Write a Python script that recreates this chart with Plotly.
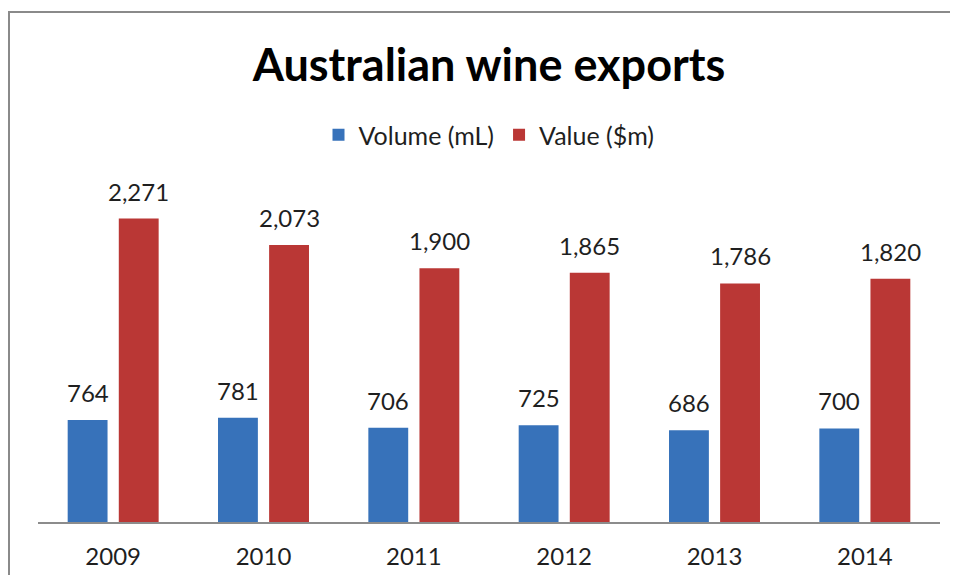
import plotly.graph_objects as go

years = ["2009", "2010", "2011", "2012", "2013", "2014"]
volume_ml = [764, 781, 706, 725, 686, 700]
value_m = [2271, 2073, 1900, 1865, 1786, 1820]
series_names = ["Volume (mL)", "Value ($m)"]

OFF = 8  # page body margin
W, H = 958 - 2 * OFF, 583 - 2 * OFF
L, R, T, B = 38 - OFF, 940 - OFF, 188 - OFF, 522 - OFF
plot_w, plot_h = R - L, B - T
bargap = 0.32
bargroupgap = 0.22
font_family = "Lato, 'Open Sans', sans-serif"
text_color = "#1f1f1f"

fig = go.Figure()
fig.add_trace(go.Bar(name=series_names[0], x=years, y=volume_ml,
                     marker=dict(color="#3772BA", line=dict(width=0))))
fig.add_trace(go.Bar(name=series_names[1], x=years, y=value_m,
                     marker=dict(color="#BA3735", line=dict(width=0))))

cat_w = plot_w / len(years)
slot = cat_w * (1 - bargap) / 2
annotations = []
for i, yr in enumerate(years):
    for vals, sign in ((volume_ml, -1), (value_m, 1)):
        annotations.append(dict(
            x=i, y=vals[i], xref="x", yref="y",
            text=f"{vals[i]:,}", showarrow=False,
            xshift=sign * slot / 2, yshift=11, yanchor="bottom",
            font=dict(family=font_family, size=24, color=text_color)))

def px_x(p):
    return (p - OFF - L) / plot_w

def px_y(p):
    return (B - (p - OFF)) / plot_h

border = dict(color="#8a8a8a", width=2)
shapes = [
    dict(type="line", xref="paper", yref="paper", x0=px_x(8), x1=px_x(950),
         y0=px_y(12), y1=px_y(12), line=border),
    dict(type="line", xref="paper", yref="paper", x0=px_x(9), x1=px_x(9),
         y0=px_y(12), y1=px_y(575), line=border),
]

fig.update_layout(
    template="none",
    width=W, height=H, autosize=False,
    margin=dict(l=L, r=W - R, t=T, b=H - B, pad=0, autoexpand=False),
    paper_bgcolor="white", plot_bgcolor="white",
    barmode="group", bargap=bargap, bargroupgap=bargroupgap,
    title=dict(text="<b>Australian wine exports</b>", x=0.5, xref="paper",
               xanchor="center", y=1 - (65 - OFF) / H, yref="container", yanchor="middle",
               font=dict(family=font_family, size=45, color="black")),
    legend=dict(orientation="h", x=0.5, xanchor="center", y=px_y(135),
                yanchor="middle", font=dict(family=font_family, size=25, color=text_color),
                bgcolor="rgba(0,0,0,0)", itemwidth=30),
    xaxis=dict(type="category", range=[-0.5, len(years) - 0.5], automargin=False,
               showline=True, linecolor="#8c8c8c", linewidth=1.5,
               ticks="outside", ticklen=12, tickcolor="rgba(0,0,0,0)",
               showgrid=False, zeroline=False,
               tickfont=dict(family=font_family, size=24, color=text_color)),
    yaxis=dict(visible=False, range=[0, 2500], automargin=False,
               showgrid=False, zeroline=False),
    annotations=annotations,
    shapes=shapes,
    showlegend=True,
)

fig.write_html("out.html", config={"displayModeBar": False})
